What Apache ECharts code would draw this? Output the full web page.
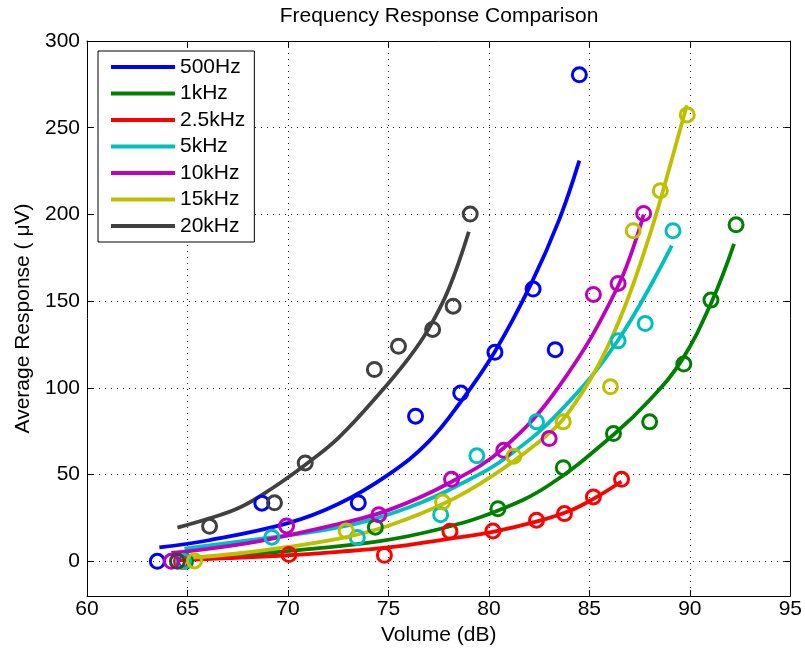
<!DOCTYPE html>
<html>
<head>
<meta charset="utf-8">
<title>Frequency Response Comparison</title>
<script src="https://cdn.jsdelivr.net/npm/echarts@6/dist/echarts.min.js"></script>
<style>
  html, body { margin: 0; padding: 0; background: #fff; }
  #chart { width: 805px; height: 652px; }
</style>
</head>
<body>
<div id="chart"></div>
<script>
const names = ['500Hz', '1kHz', '2.5kHz', '5kHz', '10kHz', '15kHz', '20kHz'];
const colors = ['#0000ff', '#008000', '#ff0000', '#00bfbf', '#bf00bf', '#bfbf00', '#404040'];

const pts500Hz = [[63.5, 0], [68.7, 33.5], [73.5, 33.8], [76.35, 83.7], [78.6, 97], [80.3, 120.5], [82.2, 157], [83.3, 122], [84.5, 280.5]];
const pts1kHz = [[64.9, 0], [74.35, 19.7], [80.45, 30.3], [83.7, 54], [86.2, 73.7], [88.0, 80.4], [89.7, 113.7], [91.05, 150.6], [92.3, 194]];
const pts2500Hz = [[64.7, 0], [70.05, 3.9], [74.8, 3.5], [78.06, 17.3], [80.2, 17.5], [82.37, 23.7], [83.76, 27.5], [85.2, 37.1], [86.6, 47.3]];
const pts5kHz = [[64.8, 0], [69.2, 13.9], [73.45, 13.7], [77.6, 26.9], [79.4, 60.8], [82.37, 80.4], [86.43, 127.1], [87.78, 137.1], [89.16, 190.6]];
const pts10kHz = [[64.2, 0], [69.93, 20.4], [74.52, 26.9], [78.14, 47.3], [80.74, 64], [83.0, 70.8], [85.2, 153.9], [86.43, 160.2], [87.7, 200.6]];
const pts15kHz = [[65.35, 0.2], [72.9, 17.5], [77.7, 34.2], [81.24, 60.6], [83.7, 80.4], [86.05, 100.6], [87.18, 190.6], [88.53, 213.7], [89.87, 257.4]];
const pts20kHz = [[64.5, 0], [66.1, 20.2], [69.33, 33.7], [70.86, 56.7], [74.3, 110.6], [75.5, 124], [77.2, 133.7], [78.22, 147.1], [79.07, 200.2]];

// --- fitted curves ---
const fit500Hz = [[63.6, 8], [66, 12], [70, 22], [72.5, 33], [75, 50], [77, 69], [78.6, 92], [80.3, 121], [82.1, 160], [83.5, 197], [84.5, 231]];
const fit1kHz = [[64.9, 1.5], [68, 4], [71, 7], [74.5, 11.5], [77.5, 18.5], [80.4, 29], [83, 44], [86.2, 73], [88, 93], [89.6, 116], [91.1, 150], [92.2, 183]];
const fit2500Hz = [[64.5, 0.5], [67, 1.8], [70, 3.5], [72.5, 5.5], [75, 8], [78, 13], [80.2, 17], [82.4, 23], [84, 29], [85.2, 36], [86.6, 46]];
const fit5kHz = [[64.85, 7.3], [68, 12], [72.5, 19.5], [76, 31], [79, 47], [81, 61], [83.5, 86], [86.4, 127], [89.1, 182]];
const fit10kHz = [[64.2, 4.8], [68, 10.5], [72.5, 21.5], [75, 29.5], [78, 45], [80.7, 65], [83.5, 101], [86.4, 158], [87.7, 200]];
const fit15kHz = [[65.1, 2], [67.5, 4.5], [70, 8.3], [72.9, 14], [75, 20.5], [77.7, 33], [80, 48], [82.5, 69], [83.7, 82], [85, 104], [86, 126], [87, 154], [88, 188], [88.6, 211], [89.85, 263]];
const fit20kHz = [[64.5, 19.4], [66.1, 24.8], [67.6, 31], [69.2, 42], [70.9, 56], [72.5, 71], [74.5, 96], [76, 117], [77, 134], [78, 157], [79, 190]];

const pointSets = [pts500Hz, pts1kHz, pts2500Hz, pts5kHz, pts10kHz, pts15kHz, pts20kHz];
const fitSets = [fit500Hz, fit1kHz, fit2500Hz, fit5kHz, fit10kHz, fit15kHz, fit20kHz];

const yTicks = [0, 50, 100, 150, 200, 250, 300];

const FONT = 'Liberation Sans';

// --- build series ---
const series = [];
names.forEach((name, i) => {
    series.push({
        name: name,
        type: 'line',
        data: fitSets[i],
        symbol: 'none',
        smooth: 0.4,
        lineStyle: { color: colors[i], width: 3.8, cap: 'butt' },
        itemStyle: { color: colors[i] },
        z: 2
    });
});
names.forEach((name, i) => {
    series.push({
        name: name + ' data',
        type: 'scatter',
        data: pointSets[i],
        symbol: 'circle',
        symbolSize: 14,
        itemStyle: { color: 'rgba(0,0,0,0)', borderColor: colors[i], borderWidth: 3, opacity: 1 },
        z: 3
    });
});

const chart = echarts.init(document.getElementById('chart'));

const gridStyle = { show: true, lineStyle: { color: '#222', type: [1, 5], width: 1 } };

chart.setOption({
    animation: false,
    backgroundColor: '#fff',
    textStyle: { fontFamily: FONT },
    title: {
        text: 'Frequency Response Comparison',
        left: 439,
        top: 6,
        textAlign: 'center',
        padding: 0,
        textStyle: { fontFamily: FONT, fontSize: 21, fontWeight: 'normal', color: '#000' }
    },
    grid: { left: 87, right: 14, top: 41, bottom: 56 },
    legend: {
        data: names,
        orient: 'vertical',
        left: 98,
        top: 51,
        icon: 'rect',
        itemWidth: 64,
        itemHeight: 4,
        itemGap: 4.5,
        padding: [5, 9, 5, 13],
        borderColor: '#000',
        borderWidth: 1,
        backgroundColor: '#fff',
        textStyle: { fontFamily: FONT, fontSize: 21, lineHeight: 22, color: '#000' },
        z: 10
    },
    xAxis: [{
        type: 'value',
        min: 60, max: 95, interval: 5,
        position: 'bottom',
        name: 'Volume (dB)',
        nameLocation: 'middle',
        nameGap: 28,
        nameTextStyle: { fontFamily: FONT, fontSize: 21, color: '#000' },
        axisLine: { show: true, onZero: false, lineStyle: { color: '#000', width: 1 } },
        axisTick: { show: true, inside: true, length: 6, lineStyle: { color: '#000' } },
        axisLabel: { fontFamily: FONT, fontSize: 21, color: '#000', margin: 3 },
        splitLine: gridStyle
    }, {
        type: 'value',
        min: 60, max: 95, interval: 5,
        position: 'top',
        axisLine: { show: true, onZero: false, lineStyle: { color: '#000', width: 1 } },
        axisTick: { show: true, inside: true, length: 6, lineStyle: { color: '#000' } },
        axisLabel: { show: false },
        splitLine: { show: false }
    }],
    yAxis: [{
        type: 'value',
        min: -20, max: 300,
        position: 'left',
        name: 'Average Response ( \u03bcV)',
        nameLocation: 'middle',
        nameGap: 53,
        nameTextStyle: { fontFamily: FONT, fontSize: 21, color: '#000' },
        axisLine: { show: true, onZero: false, lineStyle: { color: '#000', width: 1 } },
        axisTick: { show: true, inside: true, length: 6, customValues: yTicks, lineStyle: { color: '#000' } },
        axisLabel: { fontFamily: FONT, fontSize: 21, color: '#000', margin: 7, customValues: yTicks },
        splitLine: gridStyle
    }, {
        type: 'value',
        min: -20, max: 300,
        position: 'right',
        axisLine: { show: true, onZero: false, lineStyle: { color: '#000', width: 1 } },
        axisTick: { show: true, inside: true, length: 6, customValues: yTicks, lineStyle: { color: '#000' } },
        axisLabel: { show: false, customValues: yTicks },
        splitLine: { show: false }
    }],
    series: series
});
</script>
</body>
</html>
